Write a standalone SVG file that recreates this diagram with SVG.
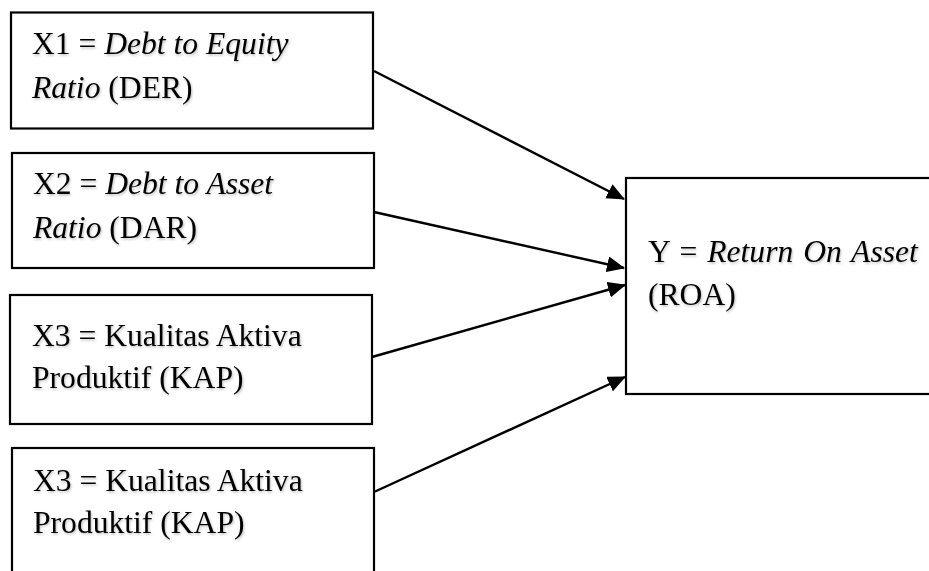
<svg xmlns="http://www.w3.org/2000/svg" width="929" height="571" viewBox="0 0 929 571">
<style>
.box{fill:#fff;stroke:#000;stroke-width:2.2}
.t{font-family:"Liberation Serif","Times New Roman",serif;font-size:31.6px;fill:#000;filter:url(#sh)}
.i{font-style:italic}
.c{stroke:#000;stroke-width:2.4;fill:none;marker-end:url(#ah)}
</style>
<defs>
<marker id="ah" viewBox="0 0 18 16" refX="17" refY="8" markerWidth="18" markerHeight="16" markerUnits="userSpaceOnUse" orient="auto">
<path d="M0,0 L18,8 L0,16 z" fill="#000"/>
</marker>
<filter id="sh" x="-5%" y="-20%" width="110%" height="140%">
<feDropShadow dx="1" dy="1.5" stdDeviation="1" flood-color="#000" flood-opacity="0.25"/>
</filter>
</defs>
<rect width="929" height="571" fill="#fff"/>
<g id="x1">
<rect class="box" x="11" y="12.5" width="362" height="116"/>
<text class="t" x="32" y="54">X1 = <tspan class="i">Debt to Equity</tspan></text>
<text class="t" x="32" y="98"><tspan class="i">Ratio</tspan> (DER)</text>
</g>
<g id="x2">
<rect class="box" x="12" y="153" width="362" height="115"/>
<text class="t" x="33" y="194">X2 = <tspan class="i">Debt to Asset</tspan></text>
<text class="t" x="33" y="238"><tspan class="i">Ratio</tspan> (DAR)</text>
</g>
<g id="x3">
<rect class="box" x="10" y="295" width="362" height="129"/>
<text class="t" x="32" y="346">X3 = Kualitas Aktiva</text>
<text class="t" x="32" y="388">Produktif (KAP)</text>
</g>
<g id="x4">
<rect class="box" x="12" y="448" width="362" height="140"/>
<text class="t" x="33" y="491">X3 = Kualitas Aktiva</text>
<text class="t" x="33" y="533">Produktif (KAP)</text>
</g>
<g id="y">
<rect class="box" x="626" y="178" width="320" height="216"/>
<text class="t" x="648" y="262" word-spacing="2">Y = <tspan class="i">Return On Asset</tspan></text>
<text class="t" x="648" y="305">(ROA)</text>
</g>
<g id="connectors">
<line class="c" x1="374" y1="71" x2="624" y2="199"/>
<line class="c" x1="374" y1="212" x2="624" y2="268"/>
<line class="c" x1="372" y1="357" x2="625" y2="285"/>
<line class="c" x1="374" y1="492" x2="625" y2="377"/>
</g>
</svg>
